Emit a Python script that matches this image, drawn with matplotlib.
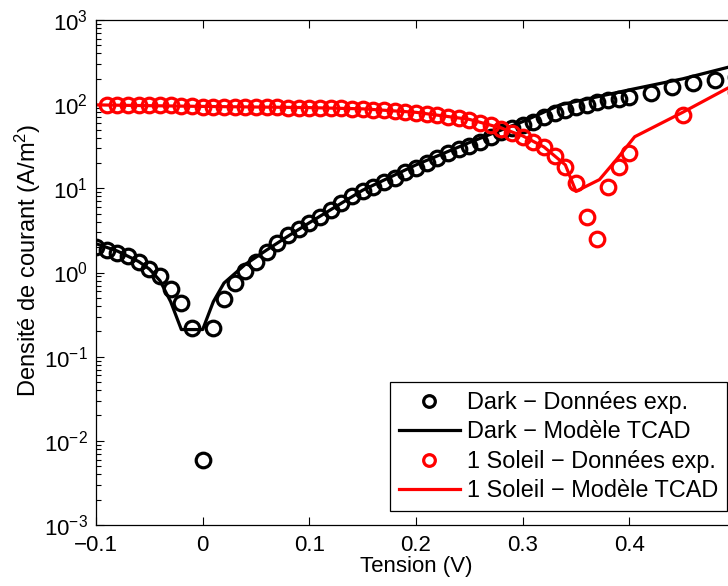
import numpy as np
import matplotlib
matplotlib.use("Agg")
import matplotlib.pyplot as plt
from matplotlib.ticker import FixedLocator, LogLocator, NullFormatter

plt.rcParams['font.family'] = ['Liberation Sans', 'DejaVu Sans']
plt.rcParams['mathtext.fontset'] = 'custom'
plt.rcParams['mathtext.rm'] = 'Liberation Sans'
plt.rcParams['mathtext.it'] = 'Liberation Sans:italic'
plt.rcParams['axes.unicode_minus'] = True

# Dark - experimental data
dark_v = [-0.10, -0.09, -0.08, -0.07, -0.06, -0.05, -0.04, -0.03, -0.02, -0.01,
          0.00, 0.01, 0.02, 0.03, 0.04, 0.05, 0.06, 0.07, 0.08, 0.09,
          0.10, 0.11, 0.12, 0.13, 0.14, 0.15, 0.16, 0.17, 0.18, 0.19,
          0.20, 0.21, 0.22, 0.23, 0.24, 0.25, 0.26, 0.27, 0.28, 0.29,
          0.30, 0.31, 0.32, 0.33, 0.34, 0.35, 0.36, 0.37, 0.38, 0.39,
          0.40, 0.42, 0.44, 0.46, 0.48, 0.50]
dark_j = [2.0, 1.85, 1.7, 1.55, 1.35, 1.1, 0.9, 0.63, 0.43, 0.22,
          0.006, 0.22, 0.48, 0.76, 1.05, 1.35, 1.75, 2.25, 2.8, 3.25,
          3.9, 4.6, 5.6, 6.7, 8.0, 9.2, 10.3, 11.8, 13.4, 15.6,
          17.6, 20, 23, 26, 29, 32, 36, 41, 47, 52,
          57, 62, 70, 78, 85, 92, 99, 105, 111, 116,
          121, 137, 158, 178, 192, 210]

# Dark - TCAD model
dark_tcad_v = [-0.10, -0.08, -0.06, -0.05, -0.04, -0.03, -0.02, 0.00, 0.01, 0.02,
               0.04, 0.06, 0.08, 0.10, 0.15, 0.20, 0.25, 0.30, 0.335, 0.40, 0.45, 0.50]
dark_tcad_j = [2.2, 1.8, 1.35, 1.1, 0.8, 0.45, 0.21, 0.21, 0.45, 0.75,
               1.25, 1.85, 2.7, 3.9, 9.5, 19, 35, 62, 98, 148, 200, 290]

# 1 Soleil - experimental data
sun_v = [-0.09, -0.08, -0.07, -0.06, -0.05, -0.04, -0.03, -0.02, -0.01, 0.00,
         0.01, 0.02, 0.03, 0.04, 0.05, 0.06, 0.07, 0.08, 0.09, 0.10,
         0.11, 0.12, 0.13, 0.14, 0.15, 0.16, 0.17, 0.18, 0.19, 0.20,
         0.21, 0.22, 0.23, 0.24, 0.25, 0.26, 0.27, 0.28, 0.29, 0.30,
         0.31, 0.32, 0.33, 0.34, 0.35, 0.36, 0.37, 0.38, 0.39, 0.40,
         0.45, 0.50]
sun_j = [97, 97, 97, 97, 97, 97, 97, 96, 96, 93,
         92, 92, 92, 92, 92, 92, 92, 91, 91, 91,
         90, 90, 89, 88, 87, 86, 85, 83, 81, 79,
         77, 75, 71, 68, 65, 60, 56, 51, 46, 41,
         36, 31, 24, 18, 11.5, 4.6, 2.5, 10.5, 18, 26,
         75, 140]

# 1 Soleil - TCAD model
sun_tcad_v = [-0.10, 0.00, 0.10, 0.15, 0.20, 0.25, 0.28, 0.30, 0.32, 0.34,
              0.35, 0.372, 0.388, 0.405, 0.45, 0.50]
sun_tcad_j = [98, 94, 91, 88, 80, 66, 52, 42, 31, 19,
              9.2, 12.7, 22, 41, 80, 175]

xticks = [-0.1, 0, 0.1, 0.2, 0.3, 0.4]
xtick_labels = ['\u22120.1', '0', '0.1', '0.2', '0.3', '0.4']

fig = plt.figure(figsize=(7.28, 5.86), dpi=100)
ax = fig.add_axes([96 / 728, 1 - 525 / 586, 640 / 728, 505 / 586])

ms = 10.5
mew = 2.3
ax.plot(dark_v, dark_j, 'o', color='black', mfc='none', ms=ms, mew=mew,
        label='Dark \u2212 Données exp.')
ax.plot(dark_tcad_v, dark_tcad_j, '-', color='black', lw=2.3,
        label='Dark \u2212 Modèle TCAD')
ax.plot(sun_v, sun_j, 'o', color='red', mfc='none', ms=ms, mew=mew,
        label='1 Soleil \u2212 Données exp.')
ax.plot(sun_tcad_v, sun_tcad_j, '-', color='red', lw=2.3,
        label='1 Soleil \u2212 Modèle TCAD')

ax.set_yscale('log')
ax.set_xlim(-0.1, 0.5)
ax.set_ylim(1e-3, 1e3)
ax.xaxis.set_major_locator(FixedLocator(xticks))
ax.set_xticklabels(xtick_labels)
ax.yaxis.set_major_locator(LogLocator(base=10, numticks=10))
ax.yaxis.set_minor_locator(LogLocator(base=10, subs=np.arange(2, 10), numticks=20))
ax.yaxis.set_minor_formatter(NullFormatter())

ax.tick_params(which='both', direction='in', top=True, right=True, labelsize=16,
               width=0.8, color='black')
ax.tick_params(which='major', length=6, pad=6)
ax.tick_params(axis='x', which='major', pad=7)
ax.tick_params(which='minor', length=3.5)
for s in ax.spines.values():
    s.set_linewidth(0.9)

ax.set_xlabel('Tension (V)', fontsize=16, labelpad=0)
ax.set_ylabel('Densité de courant (A/m$^2$)', fontsize=17)
ax.yaxis.set_label_coords(-0.083, 0.525)

leg = ax.legend(loc='lower right', bbox_to_anchor=(727 / 728, 1 - 511 / 586),
                bbox_transform=fig.transFigure, fontsize=16.9, frameon=True,
                fancybox=False, framealpha=1, edgecolor='black',
                handlelength=2.6, handletextpad=0.3, labelspacing=0.27,
                borderpad=0.38, borderaxespad=0, markerscale=0.8)
leg.get_frame().set_linewidth(0.9)

fig.savefig('out.png', dpi=100)
